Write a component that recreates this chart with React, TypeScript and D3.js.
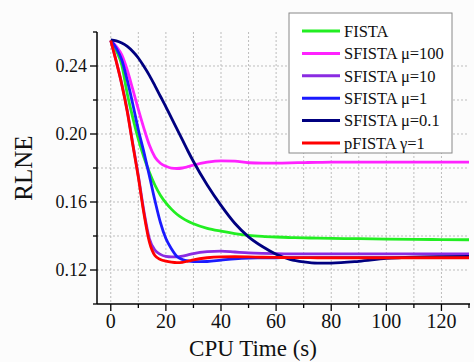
import React from "react";
import * as d3 from "d3";

const times = [0, 2, 4, 6, 8, 10, 12, 14, 16, 18, 20, 22, 24, 26, 28, 30, 35, 40, 45, 50, 55, 60, 65, 70, 75, 80, 90, 100, 110, 120, 130];

const fista = [0.255, 0.249, 0.2405, 0.2235, 0.2095, 0.197, 0.1865, 0.1775, 0.17, 0.164, 0.1595, 0.1558, 0.1528, 0.1505, 0.1487, 0.1472, 0.1445, 0.1428, 0.1414, 0.1404, 0.1398, 0.1394, 0.1391, 0.1389, 0.1387, 0.1386, 0.1384, 0.1382, 0.138, 0.1379, 0.1378];
const sfista100 = [0.255, 0.2515, 0.2465, 0.2375, 0.2262, 0.2145, 0.2035, 0.1935, 0.1865, 0.1828, 0.181, 0.1799, 0.1797, 0.18, 0.1808, 0.1817, 0.1834, 0.1842, 0.184, 0.1831, 0.1829, 0.1829, 0.183, 0.1832, 0.1833, 0.1834, 0.1834, 0.1834, 0.1834, 0.1834, 0.1834];
const sfista10 = [0.255, 0.2428, 0.2295, 0.2137, 0.1942, 0.1755, 0.1548, 0.1385, 0.1318, 0.1292, 0.128, 0.1277, 0.1277, 0.1281, 0.1289, 0.1297, 0.1308, 0.1311, 0.1306, 0.1301, 0.1298, 0.1296, 0.1295, 0.1295, 0.1295, 0.1295, 0.1295, 0.1295, 0.1295, 0.1295, 0.1295];
const sfista1 = [0.255, 0.2505, 0.2435, 0.2315, 0.2175, 0.2025, 0.1895, 0.1755, 0.161, 0.148, 0.1385, 0.1325, 0.128, 0.1262, 0.1253, 0.1249, 0.125, 0.1258, 0.1266, 0.127, 0.1271, 0.1272, 0.1273, 0.1273, 0.1273, 0.1273, 0.1273, 0.1273, 0.1273, 0.1273, 0.1273];
const sfista01 = [0.2553, 0.2548, 0.2535, 0.2515, 0.2485, 0.2447, 0.2398, 0.2345, 0.2285, 0.2222, 0.216, 0.2095, 0.203, 0.1965, 0.19, 0.1838, 0.17, 0.158, 0.1475, 0.1395, 0.1338, 0.1293, 0.1263, 0.1248, 0.1241, 0.1241, 0.1251, 0.1268, 0.1276, 0.1279, 0.128];
const pfista = [0.255, 0.2425, 0.229, 0.213, 0.1935, 0.1745, 0.1535, 0.1365, 0.1285, 0.1262, 0.1252, 0.1246, 0.1243, 0.1245, 0.1252, 0.126, 0.1272, 0.1277, 0.1278, 0.1277, 0.1275, 0.1274, 0.1273, 0.1273, 0.1272, 0.1272, 0.1272, 0.1272, 0.1272, 0.1272, 0.1272];

const seriesNames = ["FISTA", "SFISTA \u03bc=100", "SFISTA \u03bc=10", "SFISTA \u03bc=1", "SFISTA \u03bc=0.1", "pFISTA \u03b3=1"];
const seriesColors = ["#22ee22", "#ff22ff", "#8a2be2", "#1a1aff", "#000080", "#ff0000"];
const seriesValues = [fista, sfista100, sfista10, sfista1, sfista01, pfista];

const xMajorTicks = [0, 20, 40, 60, 80, 100, 120];
const xMinorTicks = [10, 30, 50, 70, 90, 110, 130];
const yMajorTicks = [0.12, 0.16, 0.2, 0.24];
const yMinorTicks = [0.1, 0.14, 0.18, 0.22, 0.26];
const xGrid = [0, 10, 20, 30, 40, 50, 60, 70, 80, 90, 100, 110, 120];
const yGrid = [0.12, 0.14, 0.16, 0.18, 0.2, 0.22, 0.24];

const W = 474;
const H = 362;
const L = 97, R = 469, T = 32, B = 304;
const FONT = "'Liberation Serif', 'Times New Roman', serif";

export default function App() {
  const x = d3.scaleLinear().domain([-5, 130]).range([L, R]);
  const y = d3.scaleLinear().domain([0.1, 0.26]).range([B, T]);
  const line = d3
    .line<number>()
    .x((_, i) => x(times[i]))
    .y((d) => y(d))
    .curve(d3.curveMonotoneX);

  const legX = 289, legY = 13, legW = 163, legH = 140;
  const rowY = (i: number) => 31 + i * 22.4;

  return (
    <svg width={W} height={H} style={{ position: "absolute", left: 0, top: 0, background: "#fcfcfc" }} fontFamily={FONT}>
      <rect x={0} y={0} width={W} height={H} fill="#fcfcfc" />
      {xGrid.map((v) => (
        <line key={"gx" + v} x1={x(v)} x2={x(v)} y1={T} y2={B} stroke="#bdbdbd" strokeWidth={1} strokeDasharray="2,2" />
      ))}
      {yGrid.map((v) => (
        <line key={"gy" + v} x1={L} x2={R} y1={y(v)} y2={y(v)} stroke="#bdbdbd" strokeWidth={1} strokeDasharray="2,2" />
      ))}
      <defs>
        <clipPath id="clip">
          <rect x={L} y={T - 5} width={R - L + 2} height={B - T + 5} />
        </clipPath>
      </defs>
      <g clipPath="url(#clip)">
        {seriesValues.map((vals, i) => (
          <path key={i} d={line(vals) || ""} fill="none" stroke={seriesColors[i]} strokeWidth={2.8} strokeLinejoin="round" />
        ))}
      </g>
      <line x1={L} x2={L} y1={T} y2={B} stroke="#000" strokeWidth={1.5} />
      <line x1={L} x2={R + 1} y1={B} y2={B} stroke="#000" strokeWidth={1.5} />
      {yMajorTicks.map((v) => (
        <g key={"ym" + v}>
          <line x1={L - 7} x2={L} y1={y(v)} y2={y(v)} stroke="#000" strokeWidth={1.3} />
          <text x={87} y={y(v)} dy="0.35em" textAnchor="end" fontSize={18} fill="#111">
            {v.toFixed(2)}
          </text>
        </g>
      ))}
      {yMinorTicks.map((v) => (
        <line key={"yn" + v} x1={L - 4} x2={L} y1={y(v)} y2={y(v)} stroke="#000" strokeWidth={1.3} />
      ))}
      {xMajorTicks.map((v) => (
        <g key={"xm" + v}>
          <line x1={x(v)} x2={x(v)} y1={B} y2={B + 7} stroke="#000" strokeWidth={1.3} />
          <text x={x(v)} y={327.5} textAnchor="middle" fontSize={20} fill="#111">
            {v}
          </text>
        </g>
      ))}
      {xMinorTicks.map((v) => (
        <line key={"xn" + v} x1={x(v)} x2={x(v)} y1={B} y2={B + 4} stroke="#000" strokeWidth={1.3} />
      ))}
      <text x={253} y={356} textAnchor="middle" fontSize={23} fill="#111">
        CPU Time (s)
      </text>
      <text transform={`translate(32,${(T + B) / 2}) rotate(-90)`} textAnchor="middle" fontSize={25} fill="#111">
        RLNE
      </text>
      <rect x={legX} y={legY} width={legW} height={legH} fill="#fff" stroke="#888" strokeWidth={1} />
      {seriesNames.map((n, i) => (
        <g key={"lg" + i}>
          <line x1={302} x2={340} y1={rowY(i)} y2={rowY(i)} stroke={seriesColors[i]} strokeWidth={3} />
          <text x={344} y={rowY(i)} dy="0.35em" fontSize={16.5} fill="#111">
            {n}
          </text>
        </g>
      ))}
    </svg>
  );
}
